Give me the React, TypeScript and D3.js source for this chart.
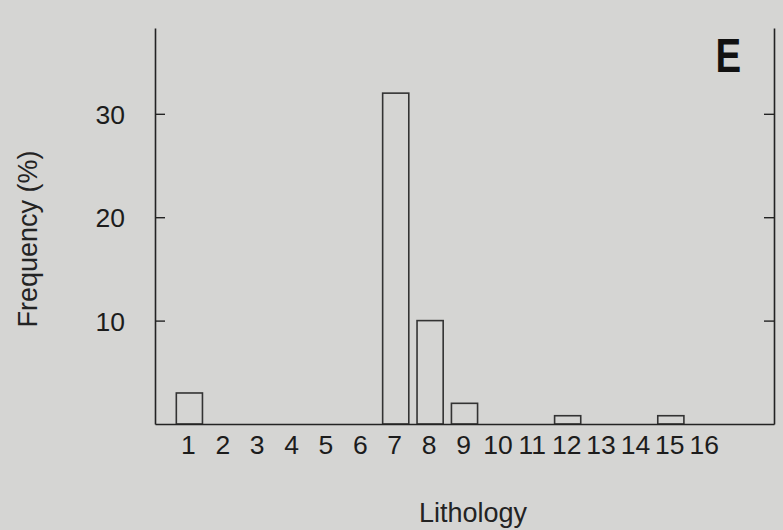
import React, { useEffect, useRef } from "react";
import { select, scaleLinear, axisLeft, axisRight, axisBottom } from "d3";

// lithology classes on the x axis and the frequency (%) of each one
const categories = [1, 2, 3, 4, 5, 6, 7, 8, 9, 10, 11, 12, 13, 14, 15, 16];
const frequency = [3, 0, 0, 0, 0, 0, 32, 10, 2, 0, 0, 0.8, 0, 0, 0.8, 0];
const yTicks = [10, 20, 30];

const W = 783;
const H = 530;
const FONT = "'Liberation Sans', Arial, Helvetica, sans-serif";
const INK = "#232323";

export default function App() {
  const svgRef = useRef<SVGSVGElement | null>(null);

  useEffect(() => {
    document.body.style.margin = "0";
    document.body.style.background = "#d5d5d3";
    const svg = select(svgRef.current);

    const left = 155;
    const right = 774;
    const top = 28;
    const bottom = 424;

    const x = scaleLinear().domain([0, 18]).range([left, right]);
    const y = scaleLinear().domain([0, 38.3]).range([bottom, top]);
    const barW = (x(1) - x(0)) * 0.76;

    // bars (zero values give no bar)
    svg
      .select(".bars")
      .selectAll("rect")
      .data(categories.map((c, i) => ({ c, v: frequency[i] })).filter((d) => d.v > 0))
      .join("rect")
      .attr("x", (d) => x(d.c) - barW / 2)
      .attr("width", barW)
      .attr("y", (d) => y(d.v))
      .attr("height", (d) => y(0) - y(d.v))
      .attr("fill", "none")
      .attr("stroke", "#333")
      .attr("stroke-width", 1.6);

    const yAxis = axisLeft(y)
      .tickValues(yTicks)
      .tickSizeInner(-10)
      .tickSizeOuter(0)
      .tickPadding(30);
    svg.select(".y-axis").attr("transform", `translate(${left},0)`).call(yAxis as any);

    const yAxisR = axisRight(y)
      .tickValues(yTicks)
      .tickSizeInner(-10)
      .tickSizeOuter(0)
      .tickFormat(() => "");
    svg.select(".y-axis-r").attr("transform", `translate(${right},0)`).call(yAxisR as any);

    const xAxis = axisBottom(x)
      .tickValues(categories)
      .tickSize(0)
      .tickSizeOuter(0)
      .tickPadding(11);
    svg.select(".x-axis").attr("transform", `translate(0,${bottom})`).call(xAxis as any);

    svg.selectAll(".domain").attr("stroke", INK).attr("stroke-width", 1.6);
    svg.selectAll(".tick line").attr("stroke", INK).attr("stroke-width", 1.4);
    svg
      .selectAll(".tick text")
      .attr("fill", "#1c1c1c")
      .attr("font-family", FONT)
      .attr("font-size", 26.5);
    svg.select(".y-axis").selectAll(".tick text").attr("dy", "0.36em");
    svg.select(".x-axis").selectAll(".tick text").attr("dx", -1.5).attr("dy", "0.72em");
  }, []);

  return (
    <div style={{ position: "fixed", left: 0, top: 0, width: W, height: H, background: "#d5d5d3" }}>
      <svg ref={svgRef} width={W} height={H} style={{ display: "block" }}>
        <g className="bars" />
        <g className="x-axis" />
        <g className="y-axis" />
        <g className="y-axis-r" />
        <text
          transform="translate(741,72) scale(0.8,1)"
          textAnchor="end"
          fontFamily={FONT}
          fontWeight="bold"
          fontSize={48}
          fill="#111"
        >
          E
        </text>
        <text x={473} y={522} textAnchor="middle" fontFamily={FONT} fontSize={27} fill={INK}>
          Lithology
        </text>
        <text
          transform="translate(37,239) rotate(-90)"
          textAnchor="middle"
          fontFamily={FONT}
          fontSize={27}
          fill={INK}
        >
          Frequency (%)
        </text>
      </svg>
    </div>
  );
}
